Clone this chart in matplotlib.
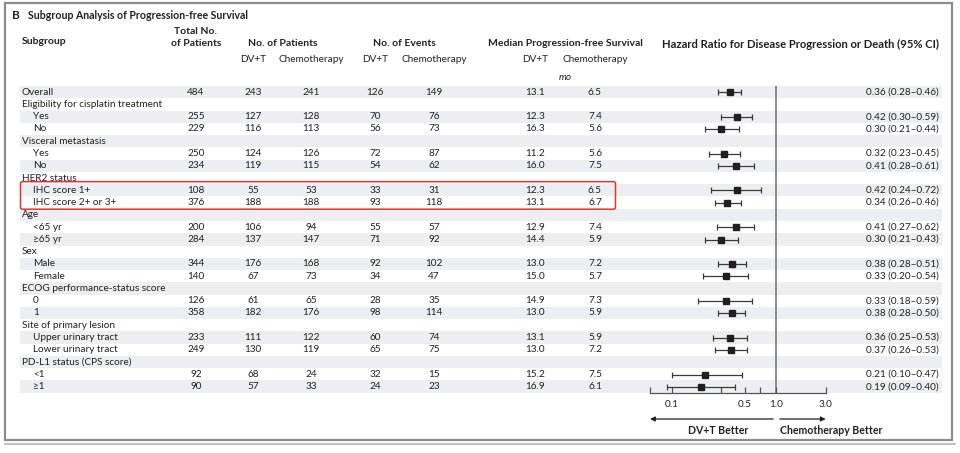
import matplotlib
matplotlib.use("Agg")
import matplotlib.pyplot as plt
from matplotlib import font_manager
from matplotlib.patches import Rectangle, FancyBboxPatch

## pick a narrow font if there is one
def pick_font(names):
    for n in names:
        try:
            font_manager.findfont(n, fallback_to_default=False)
            return n
        except ValueError:
            continue
    return 'DejaVu Sans'

body_font = pick_font(['Liberation Sans Narrow', 'Lato', 'Liberation Sans'])
plt.rcParams['font.family'] = [body_font, 'DejaVu Sans']

## Data
labels = ['Overall', 'Eligibility for cisplatin treatment', 'Yes', 'No',
          'Visceral metastasis', 'Yes', 'No',
          'HER2 status', 'IHC score 1+', 'IHC score 2+ or 3+',
          'Age', '<65 yr', '\u226565 yr',
          'Sex', 'Male', 'Female',
          'ECOG performance-status score', '0', '1',
          'Site of primary lesion', 'Upper urinary tract', 'Lower urinary tract',
          'PD-L1 status (CPS score)', '<1', '\u22651']
indent = [0, 0, 1, 1, 0, 1, 1, 0, 1, 1, 0, 1, 1, 0, 1, 1, 0, 1, 1, 0, 1, 1, 0, 1, 1]
total_n = [484, None, 255, 229, None, 250, 234, None, 108, 376, None, 200, 284,
           None, 344, 140, None, 126, 358, None, 233, 249, None, 92, 90]
dvt_n = [243, None, 127, 116, None, 124, 119, None, 55, 188, None, 106, 137,
         None, 176, 67, None, 61, 182, None, 111, 130, None, 68, 57]
chemo_n = [241, None, 128, 113, None, 126, 115, None, 53, 188, None, 94, 147,
           None, 168, 73, None, 65, 176, None, 122, 119, None, 24, 33]
dvt_ev = [126, None, 70, 56, None, 72, 54, None, 33, 93, None, 55, 71,
          None, 92, 34, None, 28, 98, None, 60, 65, None, 32, 24]
chemo_ev = [149, None, 76, 73, None, 87, 62, None, 31, 118, None, 57, 92,
            None, 102, 47, None, 35, 114, None, 74, 75, None, 15, 23]
dvt_med = [13.1, None, 12.3, 16.3, None, 11.2, 16.0, None, 12.3, 13.1, None, 12.9, 14.4,
           None, 13.0, 15.0, None, 14.9, 13.0, None, 13.1, 13.0, None, 15.2, 16.9]
chemo_med = [6.5, None, 7.4, 5.6, None, 5.6, 7.5, None, 6.5, 6.7, None, 7.4, 5.9,
             None, 7.2, 5.7, None, 7.3, 5.9, None, 5.9, 7.2, None, 7.5, 6.1]
hr = [0.36, None, 0.42, 0.30, None, 0.32, 0.41, None, 0.42, 0.34, None, 0.41, 0.30,
      None, 0.38, 0.33, None, 0.33, 0.38, None, 0.36, 0.37, None, 0.21, 0.19]
hr_lo = [0.28, None, 0.30, 0.21, None, 0.23, 0.28, None, 0.24, 0.26, None, 0.27, 0.21,
         None, 0.28, 0.20, None, 0.18, 0.28, None, 0.25, 0.26, None, 0.10, 0.09]
hr_hi = [0.46, None, 0.59, 0.44, None, 0.45, 0.61, None, 0.72, 0.46, None, 0.62, 0.43,
         None, 0.51, 0.54, None, 0.59, 0.50, None, 0.53, 0.53, None, 0.47, 0.40]

x_min, x_max = 0.0618, 3.0
xticks = [x_min, 0.1, 0.3, 0.5, 0.7, 1.0, 3.0]
xtick_labels = ['', '0.1', '', '0.5', '', '1.0', '3.0']

## Layout (pixels)
W, H = 960, 453
row_top = 86.0
row_h = 12.27
n_rows = len(labels)
ink = '#231f20'
shade = '#eceef1'
fs = 7.2

fig = plt.figure(figsize=(W / 100, H / 100), dpi=100)
ax = fig.add_axes([0, 0, 1, 1])
ax.set_xlim(0, W)
ax.set_ylim(H, 0)
ax.axis('off')

# frame
ax.add_patch(Rectangle((5, 3), 947, 437, fill=False, ec='#8c8c8c', lw=1.6))
ax.plot([5, 955], [444, 444], color='#b5b5b5', lw=1.2)

# title
ax.text(12, 15.5, 'B', fontsize=8.5, fontweight='bold', va='center', color=ink)
ax.text(28, 15.5, 'Subgroup Analysis of Progression-free Survival', fontsize=7.6,
        fontweight='bold', va='center', color=ink)

# column headers
hdr = dict(fontsize=7.5, fontweight='bold', va='center', color=ink)
ax.text(22, 42, 'Subgroup', ha='left', **hdr)
ax.text(196, 31, 'Total No.', ha='center', **hdr)
ax.text(196, 43, 'of Patients', ha='center', **hdr)
ax.text(283, 43, 'No. of Patients', ha='center', **hdr)
ax.text(404, 43, 'No. of Events', ha='center', **hdr)
ax.text(565, 44, 'Median Progression-free Survival', ha='center', **hdr)
ax.text(662, 44, 'Hazard Ratio for Disease Progression or Death (95% CI)', ha='left',
        fontsize=8.1, fontweight='bold', va='center', color=ink)

col_x = [196, 253, 311, 375, 434, 535, 595]
sub = dict(fontsize=fs, va='center', ha='center', color=ink)
for cx, name in zip(col_x[1:], ['DV+T', 'Chemotherapy', 'DV+T', 'Chemotherapy',
                                'DV+T', 'Chemotherapy']):
    ax.text(cx, 60, name, **sub)
ax.text(565, 77, 'mo', fontstyle='italic', **sub)

# rows
for i in range(n_rows):
    yc = row_top + row_h * (i + 0.5)
    if i % 2 == 0:
        ax.add_patch(Rectangle((20, row_top + row_h * i), 922, row_h,
                               fc=shade, ec='none', zorder=0))
    ax.text(22 + 11 * indent[i], yc, labels[i], fontsize=fs, va='center', color=ink)
    if total_n[i] is None:
        continue
    vals = [str(total_n[i]), str(dvt_n[i]), str(chemo_n[i]), str(dvt_ev[i]),
            str(chemo_ev[i]), f'{dvt_med[i]:.1f}', f'{chemo_med[i]:.1f}']
    for cx, v in zip(col_x, vals):
        ax.text(cx, yc, v, fontsize=fs, va='center', ha='center', color=ink)
    ax.text(939, yc, f'{hr[i]:.2f} ({hr_lo[i]:.2f}\u2013{hr_hi[i]:.2f})',
            fontsize=fs, va='center', ha='right', color=ink)

# red box around HER2 rows
ax.add_patch(FancyBboxPatch((20.5, row_top + row_h * 8 - 2.5), 595, row_h * 2 + 3,
                            boxstyle='round,pad=0,rounding_size=2',
                            fill=False, ec='#e8312f', lw=1.1, zorder=5))

## Forest plot
x0, x1 = 650.0, 825.7
y_axis = 393.0
fa = fig.add_axes([x0 / W, 1 - y_axis / H, (x1 - x0) / W, (y_axis - row_top) / H])
fa.set_xscale('log')
fa.set_xlim(x_min, x_max)
fa.set_ylim(n_rows, 0)
fa.patch.set_alpha(0)
for s in ['top', 'left', 'right']:
    fa.spines[s].set_visible(False)
fa.spines['bottom'].set_color('#555555')
fa.spines['bottom'].set_linewidth(0.9)
fa.set_yticks([])
fa.set_xticks(xticks)
fa.set_xticklabels(xtick_labels)
fa.minorticks_off()
fa.tick_params(axis='x', direction='in', length=4, width=0.9, color='#555555',
               labelsize=fs, labelcolor=ink, pad=5)

fa.axvline(1.0, color='#7a7a7a', lw=1.2, zorder=1)

for i in range(n_rows):
    if hr[i] is None:
        continue
    fa.errorbar(hr[i], i + 0.5, xerr=[[hr[i] - hr_lo[i]], [hr_hi[i] - hr[i]]],
                fmt='s', ms=5.0, color=ink, ecolor='#3a3a3a', elinewidth=0.9,
                capsize=2.2, capthick=0.9, zorder=3)

# direction arrows below the axis
ay = -(419 - y_axis) / (y_axis - row_top)
ty = -(430 - y_axis) / (y_axis - row_top)
arr = dict(arrowstyle='-|>', color=ink, lw=0.9, mutation_scale=7, shrinkA=0, shrinkB=0)
fa.annotate('', xy=(x_min, ay), xytext=(0.94, ay),
            xycoords=('data', 'axes fraction'), textcoords=('data', 'axes fraction'),
            arrowprops=arr, annotation_clip=False)
fa.annotate('', xy=(x_max, ay), xytext=(1.09, ay),
            xycoords=('data', 'axes fraction'), textcoords=('data', 'axes fraction'),
            arrowprops=arr, annotation_clip=False)
fa.text(0.28, ty, 'DV+T Better', transform=fa.get_xaxis_transform(),
        ha='center', va='center', fontsize=7.6, fontweight='bold', color=ink)
fa.text(3.4, ty, 'Chemotherapy Better', transform=fa.get_xaxis_transform(),
        ha='center', va='center', fontsize=7.6, fontweight='bold', color=ink)

fig.savefig('out.png', dpi=100)
